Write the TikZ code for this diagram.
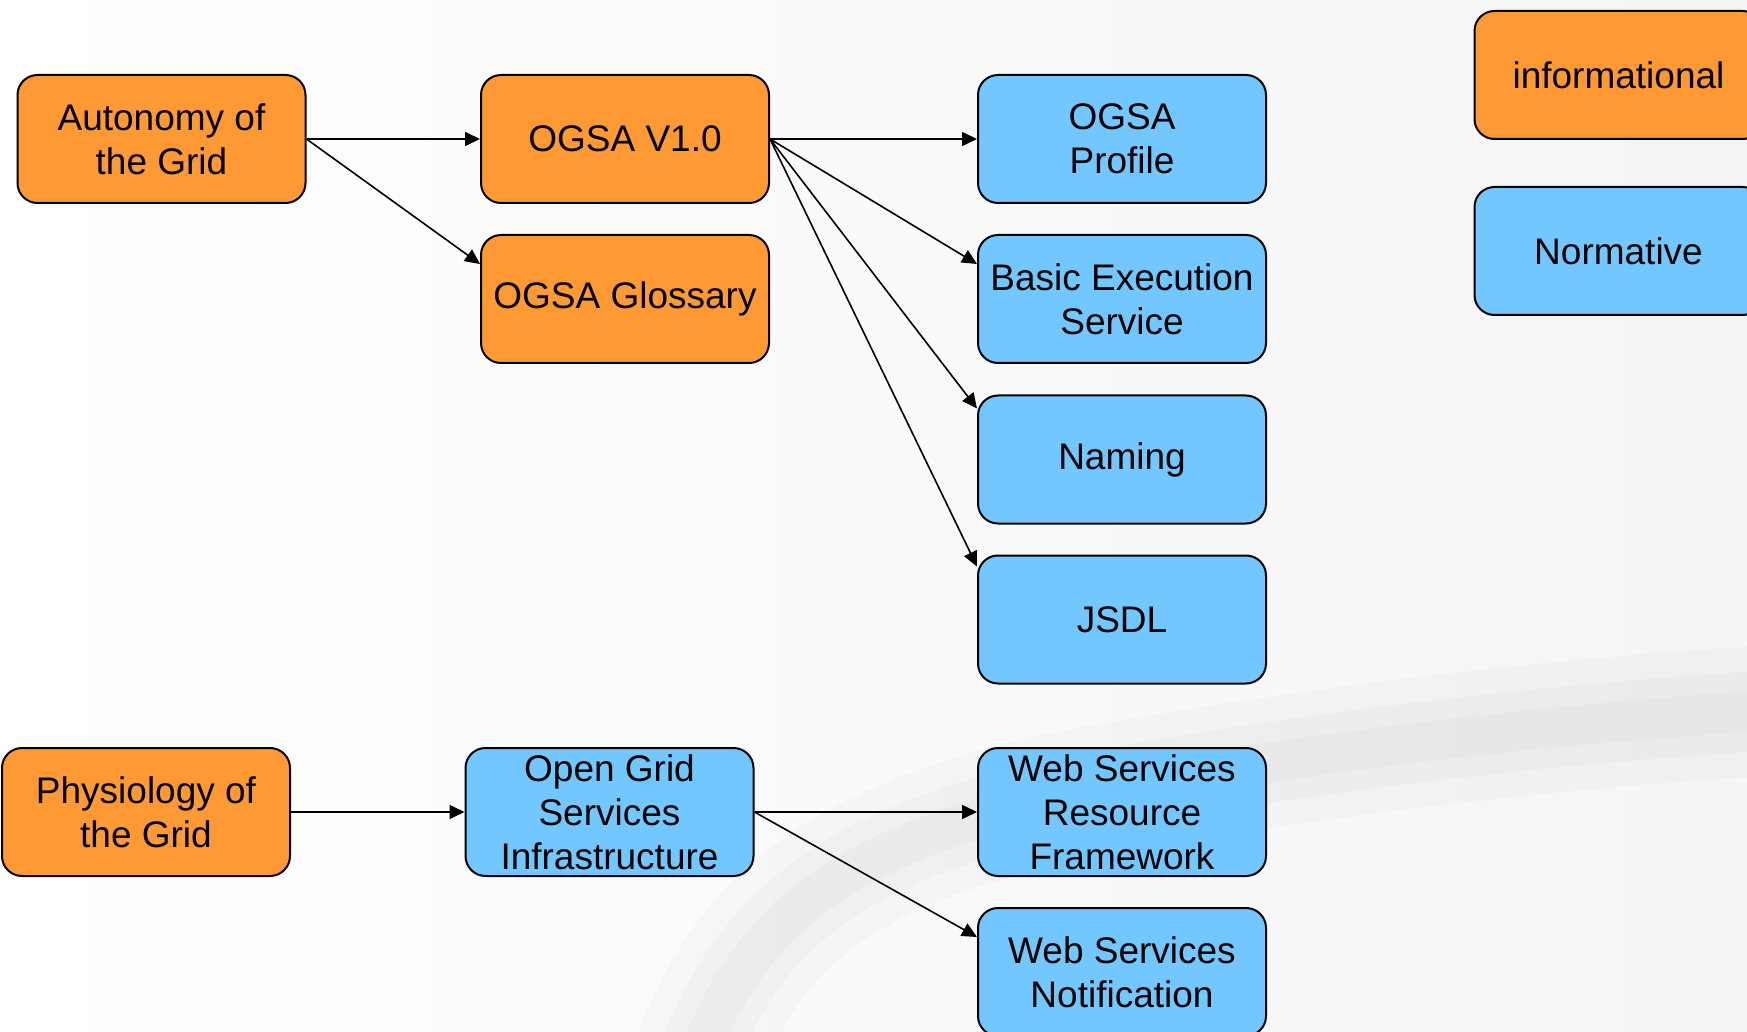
\documentclass[tikz,border=0pt]{standalone}
\usepackage{fontspec}
\setmainfont{Liberation Sans}
\usetikzlibrary{arrows.meta}
\definecolor{infoorange}{RGB}{255,153,51}
\definecolor{normblue}{RGB}{115,199,255}
\tikzset{
  box/.style={draw=black, line width=1pt, rounded corners=10pt,
    minimum width=144pt, minimum height=64pt, inner sep=0pt, align=center,
    font=\fontsize{18.5}{22}\selectfont},
  orangebox/.style={box, fill=infoorange},
  bluebox/.style={box, fill=normblue},
  conn/.style={line width=0.8pt, -{Triangle[length=7.5pt,width=7pt]}},
  shadowband/.style={line cap=round, draw=black, draw opacity=0.018}
}
\begin{document}
\begin{tikzpicture}[x=0.5pt,y=-0.5pt]
\useasboundingbox (0,0) rectangle (1747,1032);
\shade[left color=white, right color=black!4] (0,0) rectangle (1747,1032);
% faint background swoosh
\foreach \w in {130,80,40}{
  \draw[shadowband, line width=\w*0.5pt] (690,1080) .. controls (740,930) and (830,840) .. (1100,790)
     .. controls (1350,745) and (1600,720) .. (1780,710);
}
% nodes
\node[orangebox] (auto)  at (161.5,139) {Autonomy of\\the Grid};
\node[orangebox] (v1)    at (625,139)   {OGSA V1.0};
\node[orangebox] (gloss) at (625,299)   {OGSA Glossary};
\node[bluebox]   (prof)  at (1122,139)  {OGSA\\Profile};
\node[bluebox]   (bes)   at (1122,299)  {Basic Execution\\Service};
\node[bluebox]   (nam)   at (1122,459.5){Naming};
\node[bluebox]   (jsdl)  at (1122,619.5){JSDL};
\node[orangebox] (info)  at (1618.5,75) {informational};
\node[bluebox]   (norm)  at (1618.5,251){Normative};
\node[orangebox] (phys)  at (146,812)   {Physiology of\\the Grid};
\node[bluebox]   (ogsi)  at (609.5,812) {Open Grid\\Services\\Infrastructure};
\node[bluebox]   (wsrf)  at (1122,812)  {Web Services\\Resource\\Framework};
\node[bluebox]   (wsn)   at (1122,972)  {Web Services\\Notification};
% connectors
\draw[conn] (auto.east) -- (v1.west);
\draw[conn] (auto.east) -- ([yshift=-15pt]gloss.north west);
\draw[conn] (v1.east) -- (prof.west);
\draw[conn] (v1.east) -- ([yshift=-15pt]bes.north west);
\draw[conn] (v1.east) -- ([yshift=-7pt]nam.north west);
\draw[conn] (v1.east) -- ([yshift=-6pt]jsdl.north west);
\draw[conn] (phys.east) -- (ogsi.west);
\draw[conn] (ogsi.east) -- (wsrf.west);
\draw[conn] (ogsi.east) -- ([yshift=-15pt]wsn.north west);
\end{tikzpicture}
\end{document}
